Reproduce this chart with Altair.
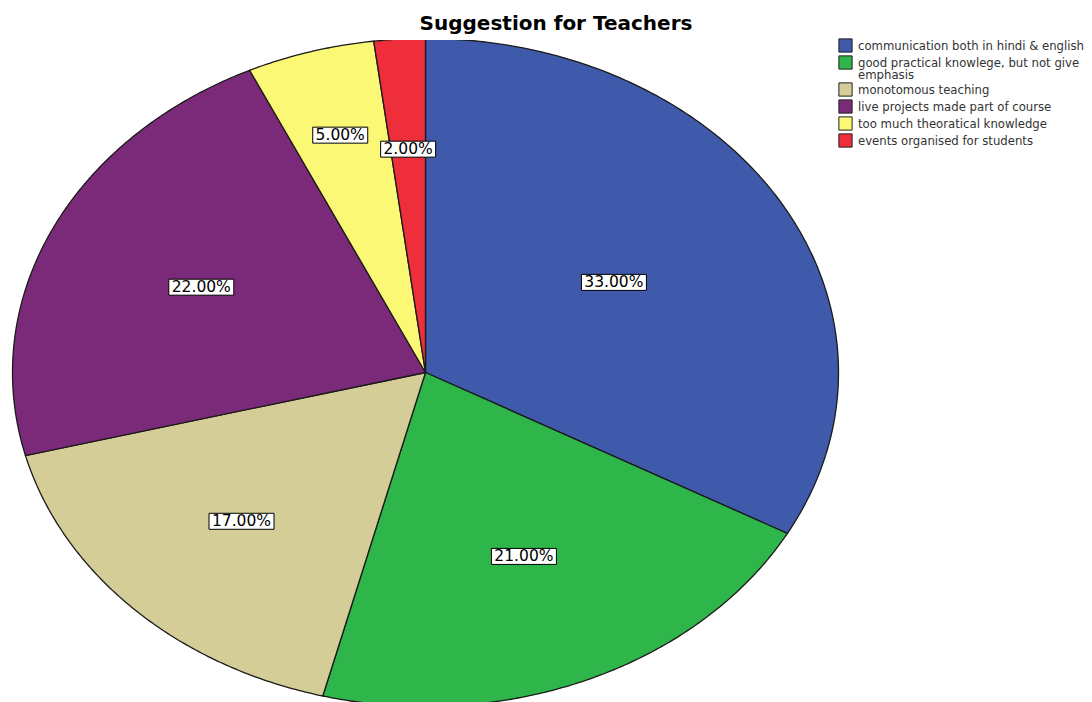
import math

import altair as alt

TITLE = "Suggestion for Teachers"
CATEGORIES = [
    "communication both in hindi & english",
    "good practical knowlege, but not give emphasis",
    "monotomous teaching",
    "live projects made part of course",
    "too much theoratical knowledge",
    "events organised for students",
]
PERCENTS = [33.0, 21.0, 17.0, 22.0, 5.0, 2.0]
COLORS = ["#3F59AB", "#2EB64B", "#D4CD98", "#7B2A79", "#FAF874", "#EE2E3A"]

# Geometry of the elliptical pie (pixels) and where each value label sits,
# as a fraction of the radius along the slice's middle angle.
RX, RY = 413, 334
CX, CY = 425.5, 372.5
TOP = 40
LABEL_RADIUS = [0.53, 0.60, 0.63, 0.60, 0.74, 0.67]

# Label boxes: custom symbol paths scaled by sqrt(size)
BOX_W6, BOX_W5, BOX_H = 65, 55, 16
PATH6 = "M-1,-{h:.4f}L1,-{h:.4f}L1,{h:.4f}L-1,{h:.4f}Z".format(h=BOX_H / BOX_W6)
PATH5 = "M-1,-{h:.4f}L1,-{h:.4f}L1,{h:.4f}L-1,{h:.4f}Z".format(h=BOX_H / BOX_W5)

total = sum(PERCENTS)
features, labels = [], []
start = 0.0
for cat, pct, lr in zip(CATEGORIES, PERCENTS, LABEL_RADIUS):
    a0 = start / total * 2 * math.pi
    a1 = (start + pct) / total * 2 * math.pi
    n = max(4, int(math.degrees(a1 - a0) / 0.5) + 1)
    ring = [[0.0, 0.0]]
    for i in range(n + 1):
        t = a0 + (a1 - a0) * i / n
        ring.append([RX * math.sin(t), RY * math.cos(t)])
    ring.append([0.0, 0.0])
    features.append({
        "type": "Feature",
        "properties": {"category": cat},
        "geometry": {"type": "Polygon", "coordinates": [ring]},
    })
    mid = (a0 + a1) / 2
    labels.append({
        "category": cat,
        "label": f"{pct:.2f}%",
        "lon": lr * RX * math.sin(mid),
        "lat": lr * RY * math.cos(mid),
    })
    start += pct

PROJ = dict(type="identity", reflectY=True, scale=1, translate=[CX, CY - TOP])

wrap_expr = (
    "datum.label == 'good practical knowlege, but not give emphasis' ? "
    "['good practical knowlege, but not give', 'emphasis'] : datum.label"
)

slices = alt.Chart(alt.Data(values=features)).mark_geoshape(
    stroke="#1a1a1a", strokeWidth=1.3
).encode(
    color=alt.Color(
        "properties.category:N",
        scale=alt.Scale(domain=CATEGORIES, range=COLORS),
        legend=alt.Legend(
            title=None, orient="none", legendX=838, legendY=-2,
            symbolType="square", symbolSize=175, symbolStrokeColor="#222",
            symbolStrokeWidth=1, symbolOpacity=1, padding=0,
            labelFont="DejaVu Sans", labelFontSize=11.7, labelColor="#333",
            labelLimit=400, labelOffset=5, rowPadding=-9,
            labelExpr=wrap_expr,
        ),
    )
).project(**PROJ)

boxes = alt.Chart(alt.Data(values=labels)).mark_point(
    filled=True, fill="white", stroke="black", strokeWidth=1, opacity=1
).encode(
    longitude="lon:Q",
    latitude="lat:Q",
    shape=alt.condition("length(datum.label) > 5", alt.value(PATH6), alt.value(PATH5)),
    size=alt.condition("length(datum.label) > 5", alt.value(BOX_W6 ** 2), alt.value(BOX_W5 ** 2)),
).project(**PROJ)

texts = alt.Chart(alt.Data(values=labels)).mark_text(
    font="DejaVu Sans", fontSize=15.5, color="black", align="center", baseline="middle"
).encode(
    longitude="lon:Q",
    latitude="lat:Q",
    text="label:N",
).project(**PROJ)

chart = alt.layer(slices, boxes, texts).properties(
    width=1092,
    height=702 - TOP,
    autosize=alt.AutoSizeParams(type="none"),
    padding={"top": TOP, "left": 0, "right": 0, "bottom": 0},
    background="white",
    title=alt.Title(TITLE, font="DejaVu Sans", fontSize=20, fontWeight="bold",
                    anchor="middle", dx=10, offset=4, color="black"),
).configure_view(stroke=None).configure(
    style={"guide-label": {"lineHeight": 12}}
)

chart.save("out.html", embed_options={"renderer": "svg", "actions": False})
